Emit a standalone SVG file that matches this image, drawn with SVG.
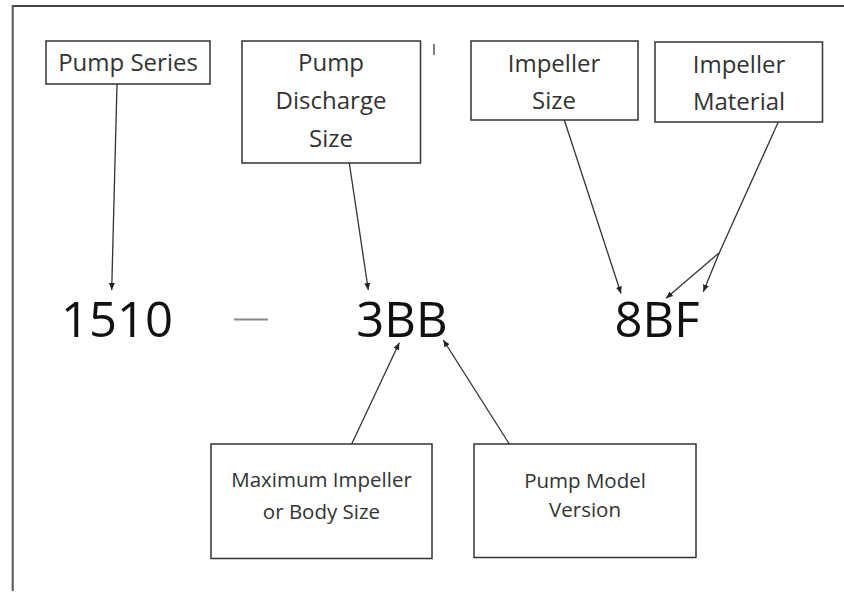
<svg xmlns="http://www.w3.org/2000/svg" width="844" height="595" viewBox="0 0 844 595">
<style>
.box{fill:#fff;stroke:#333;stroke-width:1.5}
.lbl{font-family:"Open Sans","Liberation Sans",sans-serif;font-size:24px;fill:#333;text-anchor:middle}
.sm{font-size:20.5px}
.big{font-family:"Open Sans","Liberation Sans",sans-serif;font-size:49px;fill:#111;text-anchor:middle}
.con{stroke:#333;stroke-width:1.3;fill:none}
.arr{marker-end:url(#ah)}
</style>
<defs>
<marker id="ah" markerUnits="userSpaceOnUse" markerWidth="8" markerHeight="8" viewBox="0 0 8 8" refX="7" refY="4" orient="auto">
<path d="M0,1 L7,4 L0,7 Z" fill="#222"/>
</marker>
</defs>
<rect width="844" height="595" fill="#fff"/>
<g id="frame">
<line x1="12.7" y1="6" x2="844" y2="6" stroke="#444" stroke-width="2"/>
<line x1="12.7" y1="5" x2="12.7" y2="591" stroke="#555" stroke-width="2"/>
<line x1="434" y1="44" x2="434" y2="55" stroke="#555" stroke-width="1.5"/>
</g>
<g id="pump-series">
<rect class="box" x="46" y="41" width="164" height="43"/>
<text class="lbl" x="128" y="71">Pump Series</text>
</g>
<g id="pump-discharge-size">
<rect class="box" x="242" y="41" width="178.5" height="122"/>
<text class="lbl" x="331" y="71">Pump</text>
<text class="lbl" x="331" y="109">Discharge</text>
<text class="lbl" x="331" y="146.5">Size</text>
</g>
<g id="impeller-size">
<rect class="box" x="471" y="41" width="167" height="79"/>
<text class="lbl" x="554" y="71.5">Impeller</text>
<text class="lbl" x="554" y="109">Size</text>
</g>
<g id="impeller-material">
<rect class="box" x="655" y="42" width="167.5" height="80"/>
<text class="lbl" x="739" y="72.5">Impeller</text>
<text class="lbl" x="739" y="110">Material</text>
</g>
<g id="max-impeller">
<rect class="box" x="211" y="444" width="221" height="114.5"/>
<text class="lbl sm" x="321.5" y="487">Maximum Impeller</text>
<text class="lbl sm" x="321.5" y="518.5">or Body Size</text>
</g>
<g id="pump-model-version">
<rect class="box" x="474" y="444" width="222" height="113.5"/>
<text class="lbl sm" x="585" y="487.5">Pump Model</text>
<text class="lbl sm" x="585" y="517">Version</text>
</g>
<g id="code">
<text class="big" x="117" y="337">1510</text>
<line x1="234" y1="319.5" x2="268" y2="319.5" stroke="#888" stroke-width="2"/>
<text class="big" x="402" y="337">3BB</text>
<text class="big" x="657" y="337">8BF</text>
</g>
<g id="connectors">
<line class="con arr" x1="117" y1="84" x2="111.7" y2="290"/>
<line class="con arr" x1="349.3" y1="163" x2="368.3" y2="290"/>
<line class="con arr" x1="564.3" y1="120" x2="621" y2="293.5"/>
<line class="con" x1="778.3" y1="122" x2="719.3" y2="252.7"/>
<line class="con arr" x1="719.3" y1="252.7" x2="666" y2="298.3"/>
<line class="con arr" x1="719.3" y1="252.7" x2="703.3" y2="291.7"/>
<line class="con arr" x1="351.7" y1="444" x2="399.3" y2="342.7"/>
<line class="con arr" x1="509.3" y1="444" x2="443.3" y2="340"/>
</g>
</svg>
